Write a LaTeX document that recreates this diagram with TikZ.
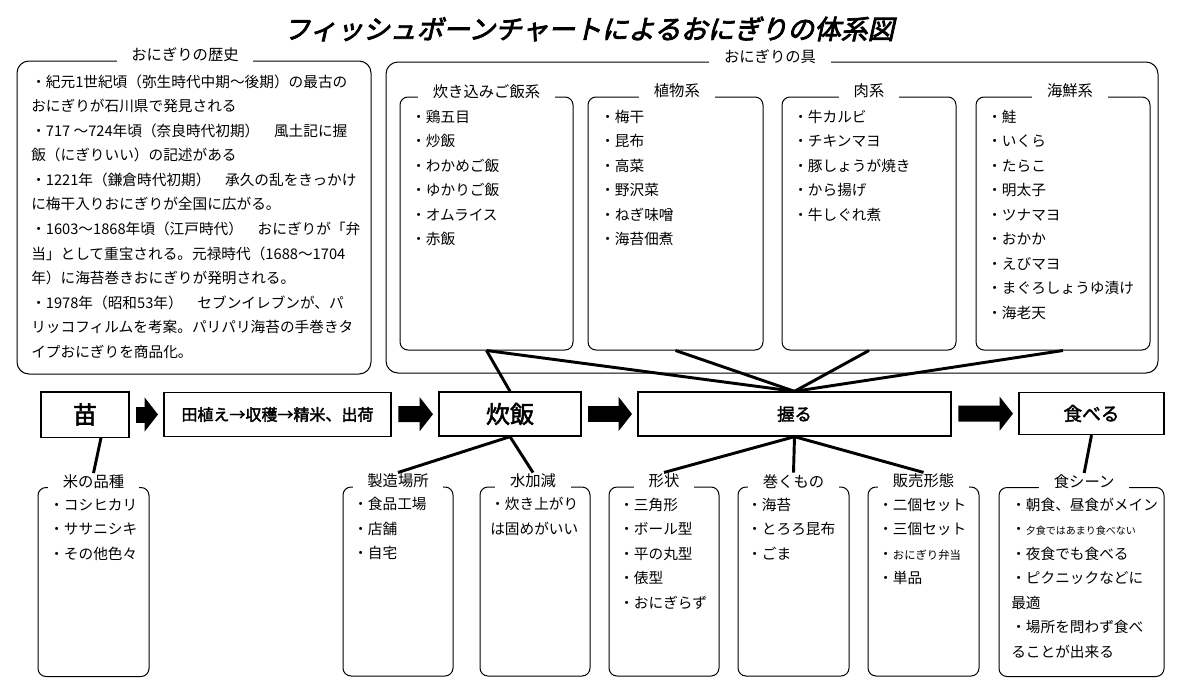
\documentclass[tikz,border=0pt]{standalone}
\usepackage{fontspec}
\setmainfont{Noto Sans CJK JP}
\newfontfamily\jpbold[FakeBold=2.2]{Noto Sans CJK JP}
\newfontfamily\jptitle[FakeBold=3,FakeSlant=0.22]{Noto Sans CJK JP}
\usepackage{tikz}
\usetikzlibrary{arrows.meta}

\begin{document}
\begin{tikzpicture}[x=0.75pt,y=0.75pt,yscale=-1,
  stage/.style={draw,line width=1pt,inner sep=0pt,font=\jpbold},
  group/.style={draw,line width=0.75pt,rounded corners=6pt,inner sep=0pt},
  biggroup/.style={group,rounded corners=9pt},
  grouplabel/.style={fill=white,inner xsep=11pt,inner ysep=1pt,font=\fontsize{11.5}{14}\selectfont},
  items/.style={anchor=north west,inner sep=0pt,align=left,font=\fontsize{11}{18.4}\selectfont},
  bone/.style={line width=2.2pt},
  flow/.style={line width=12pt,-{Triangle[length=10pt,width=25pt]},shorten <=5pt,shorten >=4pt}
]
\useasboundingbox (0,0) rectangle (1178,689);

% Text Node
\node (title) at (589,29) [font=\jptitle\fontsize{20}{24}\selectfont] {フィッシュボーンチャートによるおにぎりの体系図};

%Rounded Rect
\node (rekishi) at (194,217.5) [biggroup,minimum width=265.5pt,minimum height=234.75pt] {};
\node (gu) at (772,217.5) [biggroup,minimum width=579pt,minimum height=233.25pt] {};
\node (takikomi) at (486.5,223.5) [group,minimum width=129.75pt,minimum height=189.75pt] {};
\node (shokubutsu) at (675.5,223.5) [group,minimum width=131.25pt,minimum height=189.75pt] {};
\node (niku) at (869,223.5) [group,minimum width=130.5pt,minimum height=189.75pt] {};
\node (kaisen) at (1063,223.5) [group,minimum width=130.5pt,minimum height=189.75pt] {};

%Rounded Rect
\node (kome) at (93.5,582) [group,minimum width=83.25pt,minimum height=141.75pt] {};
\node (basho) at (398,581.5) [group,minimum width=82.5pt,minimum height=141.75pt] {};
\node (mizu) at (535,581.5) [group,minimum width=82.5pt,minimum height=141.75pt] {};
\node (keijou) at (664,581.5) [group,minimum width=82.5pt,minimum height=141.75pt] {};
\node (maku) at (793.5,581.5) [group,minimum width=83.25pt,minimum height=141.75pt] {};
\node (hanbai) at (923.5,581.5) [group,minimum width=83.25pt,minimum height=141.75pt] {};
\node (scene) at (1081.5,582) [group,minimum width=123.75pt,minimum height=141.75pt] {};

% Text Node
\node (rekishi-lbl) at ([xshift=-6.75pt,yshift=-4.5pt]rekishi.north) [grouplabel] {おにぎりの歴史};
\node (gu-lbl) at ([xshift=-1.5pt,yshift=-4pt]gu.north) [grouplabel] {おにぎりの具};
\node (takikomi-lbl) at ([yshift=-4pt]takikomi.north) [grouplabel] {炊き込みご飯系};
\node (shokubutsu-lbl) at ([xshift=1pt,yshift=-4pt]shokubutsu.north) [grouplabel] {植物系};
\node (niku-lbl) at ([yshift=-4pt]niku.north) [grouplabel] {肉系};
\node (kaisen-lbl) at ([xshift=5.25pt,yshift=-4pt]kaisen.north) [grouplabel] {海鮮系};
\node (kome-lbl) at ([yshift=-4pt]kome.north) [grouplabel] {米の品種};
\node (basho-lbl) at ([yshift=-4pt]basho.north) [grouplabel] {製造場所};
\node (mizu-lbl) at ([xshift=-1.5pt,yshift=-4pt]mizu.north) [grouplabel] {水加減};
\node (keijou-lbl) at ([yshift=-4pt]keijou.north) [grouplabel] {形状};
\node (maku-lbl) at ([yshift=-4pt]maku.north) [grouplabel] {巻くもの};
\node (hanbai-lbl) at ([yshift=-4pt]hanbai.north) [grouplabel] {販売形態};
\node (scene-lbl) at ([xshift=2pt,yshift=-4pt]scene.north) [grouplabel] {食シーン};

% Text Node
\node (rekishi-txt) at (31,74.5) [items] {・紀元1世紀頃（弥生時代中期〜後期）の最古の\\おにぎりが石川県で発見される\\・717 〜724年頃（奈良時代初期）　風土記に握\\飯（にぎりいい）の記述がある\\・1221年（鎌倉時代初期）　承久の乱をきっかけ\\に梅干入りおにぎりが全国に広がる。\\・1603〜1868年頃（江戸時代）　おにぎりが「弁\\当」として重宝される。元禄時代（1688〜1704\\年）に海苔巻きおにぎりが発明される。\\・1978年（昭和53年）　セブンイレブンが、パ\\リッコフィルムを考案。パリパリ海苔の手巻きタ\\イプおにぎりを商品化。};
\node (takikomi-txt) at (411,109.5) [items] {・鶏五目\\・炒飯\\・わかめご飯\\・ゆかりご飯\\・オムライス\\・赤飯};
\node (shokubutsu-txt) at (600,109.5) [items] {・梅干\\・昆布\\・高菜\\・野沢菜\\・ねぎ味噌\\・海苔佃煮};
\node (niku-txt) at (793,109.5) [items] {・牛カルビ\\・チキンマヨ\\・豚しょうが焼き\\・から揚げ\\・牛しぐれ煮};
\node (kaisen-txt) at (987,109.5) [items] {・鮭\\・いくら\\・たらこ\\・明太子\\・ツナマヨ\\・おかか\\・えびマヨ\\・まぐろしょうゆ漬け\\・海老天};

% Text Node
\node (kome-txt) at (49,498.5) [items] {・コシヒカリ\\・ササニシキ\\・その他色々};
\node (basho-txt) at (353,497) [items] {・食品工場\\・店舗\\・自宅};
\node (mizu-txt) at (490,497) [items] {・炊き上がり\\は固めがいい};
\node (keijou-txt) at (619,497.5) [items] {・三角形\\・ボール型\\・平の丸型\\・俵型\\・おにぎらず};
\node (maku-txt) at (747,497.5) [items] {・海苔\\・とろろ昆布\\・ごま};
\node (hanbai-txt) at (878,497.5) [items] {・二個セット\\・三個セット\\・{\fontsize{8.5}{18.4}\selectfont おにぎり弁当}\\・単品};
\node (scene-txt) at (1011,497.5) [items] {・朝食、昼食がメイン\\・{\fontsize{7.5}{18.4}\selectfont 夕食ではあまり食べない}\\・夜食でも食べる\\・ピクニックなどに\\最適\\・場所を問わず食べ\\ることが出来る};

%Shape: Rectangle
\node (nae) at (85,414.5) [stage,minimum width=66pt,minimum height=34pt,font=\jpbold\fontsize{18}{20}\selectfont] {苗};
\node (taue) at (277.5,414.5) [stage,minimum width=170.25pt,minimum height=33pt,font=\jpbold\fontsize{12}{14}\selectfont] {田植え→収穫→精米、出荷};
\node (suihan) at (510,414) [stage,minimum width=106.5pt,minimum height=33pt,font=\jpbold\fontsize{18}{20}\selectfont] {炊飯};
\node (nigiru) at (794.5,414) [stage,minimum width=234.75pt,minimum height=33pt,font=\jpbold\fontsize{13}{15}\selectfont] {握る};
\node (taberu) at (1091.5,413.5) [stage,minimum width=108.75pt,minimum height=31.5pt,font=\jpbold\fontsize{14}{16}\selectfont] {食べる};

%Block Arrows
\draw[flow] (nae) -- (taue);
\draw[flow] (taue) -- (suihan);
\draw[flow] (suihan) -- (nigiru);
\draw[flow] (nigiru) -- (taberu);

%Straight Lines
\draw[bone] (takikomi.south) -- (suihan.north);
\draw[bone] (takikomi.south) -- (nigiru.north);
\draw[bone] (shokubutsu.south) -- (nigiru.north);
\draw[bone] (niku.south) -- (nigiru.north);
\draw[bone] (kaisen.south) -- (nigiru.north);
%Straight Lines
\draw[bone] ([xshift=12pt]nae.south) -- (kome-lbl.north);
\draw[bone] (suihan.south) -- (basho-lbl.north);
\draw[bone] (suihan.south) -- (mizu-lbl.north);
\draw[bone] (nigiru.south) -- (keijou-lbl.north);
\draw[bone] (nigiru.south) -- (maku-lbl.north);
\draw[bone] (nigiru.south) -- (hanbai-lbl.north);
\draw[bone] (taberu.south) -- (scene-lbl.north);

\end{tikzpicture}
\end{document}
